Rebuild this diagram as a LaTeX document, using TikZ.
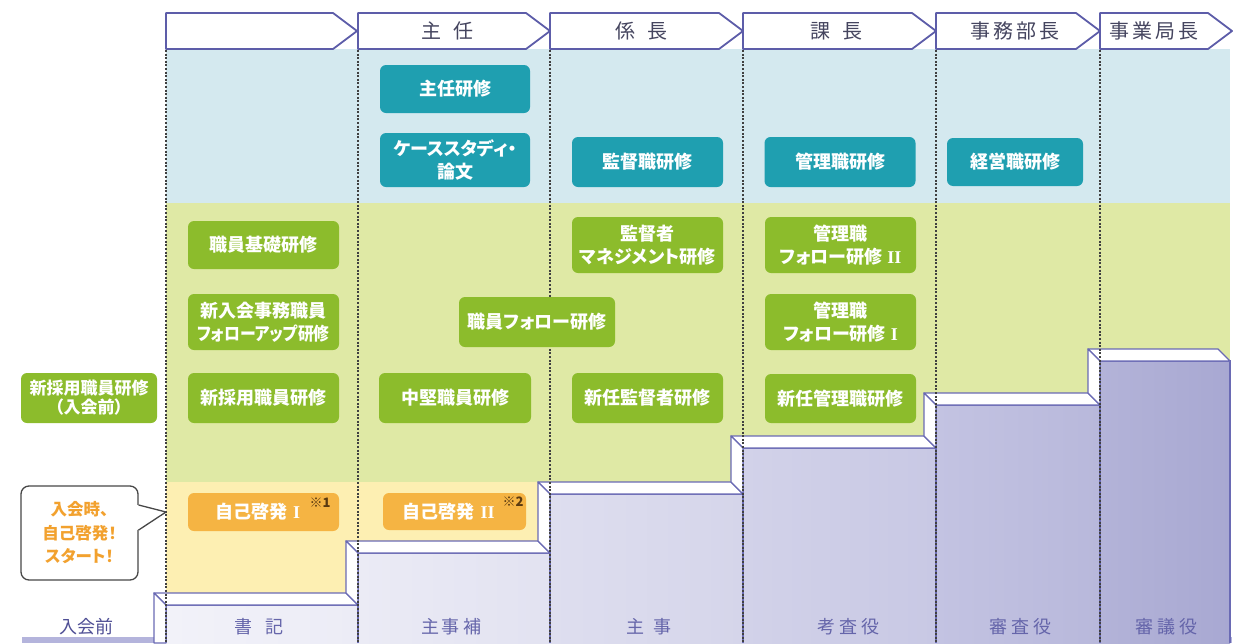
\documentclass[tikz,border=0pt]{standalone}
\usepackage{fontspec}
\setmainfont{Noto Sans CJK JP}
\newfontfamily\jpp{Noto Sans CJK JP}[RawFeature=+palt]
\newfontfamily\romanfont{Liberation Serif}
\definecolor{bandblue}{HTML}{D4E9EF}
\definecolor{bandgreen}{HTML}{DFE9A5}
\definecolor{bandyellow}{HTML}{FDEFB2}
\definecolor{tealbox}{HTML}{1F9FB0}
\definecolor{leafbox}{HTML}{8CBC2C}
\definecolor{orngbox}{HTML}{F5B443}
\definecolor{orngtext}{HTML}{F2A12E}
\definecolor{hdrline}{HTML}{5D5DA9}
\definecolor{hdrtext}{HTML}{45455F}
\definecolor{stairline}{HTML}{6A6AB4}
\definecolor{lbltext}{HTML}{6565AA}
\definecolor{lbltextdark}{HTML}{4F4F95}
\definecolor{notebrown}{HTML}{5A3A10}
\definecolor{barlav}{HTML}{B4B4DC}
\definecolor{fa}{HTML}{F2F2F9}\definecolor{fb}{HTML}{ECECF6}
\definecolor{fc}{HTML}{EBEBF5}\definecolor{fd}{HTML}{E2E2F1}
\definecolor{fe}{HTML}{DEDEEF}\definecolor{ff}{HTML}{D5D5EA}
\definecolor{fg}{HTML}{D2D2E9}\definecolor{fh}{HTML}{C8C8E4}
\definecolor{fi}{HTML}{C3C3E2}\definecolor{fj}{HTML}{B8B8DB}
\definecolor{fk}{HTML}{B3B3D8}\definecolor{fl}{HTML}{A8A8D2}
\newcommand\stairblock[6]{%
  \shade[left color=#5,right color=#6] (#1,#3) rectangle (#2,643);
  \draw[stairedge] (#1,643) -- (#1,#3) -- (#2,#3) -- (#2,643);
  \filldraw[stairface] (#1-12,#3-12) -- (#2-12,#3-12) -- (#2,#3) -- (#1,#3) -- cycle;
  \filldraw[stairface] (#1-12,#3-12) -- (#1,#3) -- (#1,#4) -- (#1-12,#4-12) -- cycle;
}
\newcommand\rmnum[1]{{\romanfont\bfseries #1}}
\begin{document}
\begin{tikzpicture}[x=1pt,y=-1pt,
  stairedge/.style={draw=stairline,line width=1.3pt},
  stairface/.style={fill=white,draw=stairline,line width=1.3pt,line join=round},
  divider/.style={draw=black!75,line width=1.3pt,dash pattern=on 2pt off 1.6pt},
  hdrshape/.style={fill=white,draw=hdrline,line width=1.8pt,line join=round},
  hdrlabel/.style={text=hdrtext,font=\fontsize{20}{24}\selectfont,inner sep=0pt},
  baselabel/.style={text=lbltext,font=\fontsize{18}{22}\selectfont,inner sep=0pt},
  boxbase/.style={rounded corners=6pt,text=white,align=center,inner sep=0pt,
    font=\jpp\bfseries\fontsize{18}{22.5}\selectfont},
  tealstyle/.style={boxbase,fill=tealbox},
  leafstyle/.style={boxbase,fill=leafbox},
  orngstyle/.style={boxbase,fill=orngbox},
  notemark/.style={text=notebrown,font=\bfseries\fontsize{13}{14}\selectfont,inner sep=0pt},
  calloutbox/.style={draw=black!72,line width=1.3pt,rounded corners=8pt,fill=white,
    text=orngtext,align=center,font=\jpp\bfseries\fontsize{16.5}{23.5}\selectfont}
]
\useasboundingbox (0,0) rectangle (1239,643);
% background bands
\fill[bandblue] (166,49) rectangle (1230,203);
\fill[bandgreen] (166,203) rectangle (1230,643);
\fill[bandyellow] (166,482) rectangle (550,643);
% bottom bar
\fill[barlav] (22,637) rectangle (1232,643);
% stairs
\shade[left color=fa,right color=fb] (166,605) rectangle (358,643);
\draw[stairedge] (166,643) -- (166,605) -- (358,605);
\filldraw[stairface] (154,593) -- (346,593) -- (358,605) -- (166,605) -- cycle;
\filldraw[stairface] (154,593) -- (166,605) -- (166,643) -- (154,643) -- cycle;
\stairblock{358}{550}{553}{605}{fc}{fd}
\stairblock{550}{743}{494}{553}{fe}{ff}
\stairblock{743}{936}{448}{494}{fg}{fh}
\stairblock{936}{1100}{405}{448}{fi}{fj}
\stairblock{1100}{1230}{361}{405}{fk}{fl}
% column dividers
\foreach \x in {166,358,550,743,936,1100}
  \draw[divider] (\x,50) -- (\x,643);
% header chevrons
\filldraw[hdrshape] (166,13) -- (333,13) -- (357,31) -- (333,49) -- (166,49) -- cycle;
\filldraw[hdrshape] (358,13) -- (526,13) -- (550,31) -- (526,49) -- (358,49) -- cycle;
\filldraw[hdrshape] (550,13) -- (719,13) -- (743,31) -- (719,49) -- (550,49) -- cycle;
\filldraw[hdrshape] (743,13) -- (912,13) -- (936,31) -- (912,49) -- (743,49) -- cycle;
\filldraw[hdrshape] (936,13) -- (1076,13) -- (1100,31) -- (1076,49) -- (936,49) -- cycle;
\filldraw[hdrshape] (1100,13) -- (1208,13) -- (1232,31) -- (1208,49) -- (1100,49) -- cycle;
\node[hdrlabel] (h2) at (447,31) {主\hspace{12pt}任};
\node[hdrlabel] (h3) at (641,31) {係\hspace{12pt}長};
\node[hdrlabel] (h4) at (836,31) {課\hspace{12pt}長};
\node[hdrlabel] (h5) at (1015,31) {事\hspace{3pt}務\hspace{3pt}部\hspace{3pt}長};
\node[hdrlabel] (h6) at (1154,31) {事\hspace{3pt}業\hspace{3pt}局\hspace{3pt}長};
% teal boxes
\node[tealstyle,minimum width=150pt,minimum height=48pt] (t1) at (455,89) {主任研修};
\node[tealstyle,minimum width=150pt,minimum height=54pt] (t2) at (455,160) {ケーススタディ・\\論文};
\node[tealstyle,minimum width=151pt,minimum height=50pt] (t3) at (647.5,162) {監督職研修};
\node[tealstyle,minimum width=151pt,minimum height=50pt] (t4) at (840,162) {管理職研修};
\node[tealstyle,minimum width=136pt,minimum height=48pt] (t5) at (1015,162) {経営職研修};
% green boxes
\node[leafstyle,minimum width=151pt,minimum height=48pt] (g1) at (263.5,245) {職員基礎研修};
\node[leafstyle,minimum width=151pt,minimum height=56pt] (g2) at (263.5,322) {新入会事務職員\\\scalebox{0.88}[1]{フォローアップ研修}};
\node[leafstyle,minimum width=151pt,minimum height=50pt] (g3) at (263.5,398) {新採用職員研修};
\node[leafstyle,minimum width=152pt,minimum height=50pt] (g4) at (455,398) {中堅職員研修};
\node[leafstyle,minimum width=156pt,minimum height=50pt] (g5) at (537,322) {職員フォロー研修};
\node[leafstyle,minimum width=151pt,minimum height=56pt] (g6) at (647.5,245) {監督者\\マネジメント研修};
\node[leafstyle,minimum width=151pt,minimum height=50pt] (g7) at (647.5,398) {新任監督者研修};
\node[leafstyle,minimum width=151pt,minimum height=56pt] (g8) at (840.5,245) {管理職\\フォロー研修\hspace{5pt}\rmnum{II}};
\node[leafstyle,minimum width=151pt,minimum height=56pt] (g9) at (840.5,322) {管理職\\フォロー研修\hspace{5pt}\rmnum{I}};
\node[leafstyle,minimum width=151pt,minimum height=49pt] (g10) at (840.5,398.5) {新任管理職研修};
\node[leafstyle,minimum width=136pt,minimum height=50pt,font=\jpp\bfseries\fontsize{17}{19}\selectfont] (g0) at (89,398) {新採用職員研修\\（入会前）};
% orange boxes
\node[orngstyle,minimum width=151pt,minimum height=38pt] (o1) at (263.5,512) {自己啓発\hspace{6pt}\rmnum{I}\hspace{12pt}};
\node[notemark] (n1) at (320,503) {※1};
\node[orngstyle,minimum width=143pt,minimum height=37pt] (o2) at (454.5,511.5) {自己啓発\hspace{6pt}\rmnum{II}\hspace{12pt}};
\node[notemark] (n2) at (513,502) {※2};
% callout
\node[calloutbox,minimum width=117pt,minimum height=94pt,inner sep=0pt] (call) at (79.5,533) {入会時、\\自己啓発！\\スタート！};
\coordinate (calltip) at (166,512);
\fill[white] (call.east |- 0,505) ++(-1.5,0) -- (calltip) -- ([xshift=-1.5pt]call.east |- 0,530) -- cycle;
\draw[black!72,line width=1.3pt,line join=round] (call.east |- 0,505) -- (calltip) -- (call.east |- 0,530);
% base labels
\node[baselabel,text=lbltextdark] (b0) at (86,627) {入会前};
\node[baselabel] (b1) at (259,627) {書\hspace{14pt}記};
\node[baselabel] (b2) at (451,627) {主\hspace{3pt}事\hspace{3pt}補};
\node[baselabel] (b3) at (649,627) {主\hspace{10pt}事};
\node[baselabel] (b4) at (848,627) {考\hspace{4pt}査\hspace{4pt}役};
\node[baselabel] (b5) at (1020,627) {審\hspace{4pt}査\hspace{4pt}役};
\node[baselabel] (b6) at (1166,627) {審\hspace{4pt}議\hspace{4pt}役};
\end{tikzpicture}
\end{document}
